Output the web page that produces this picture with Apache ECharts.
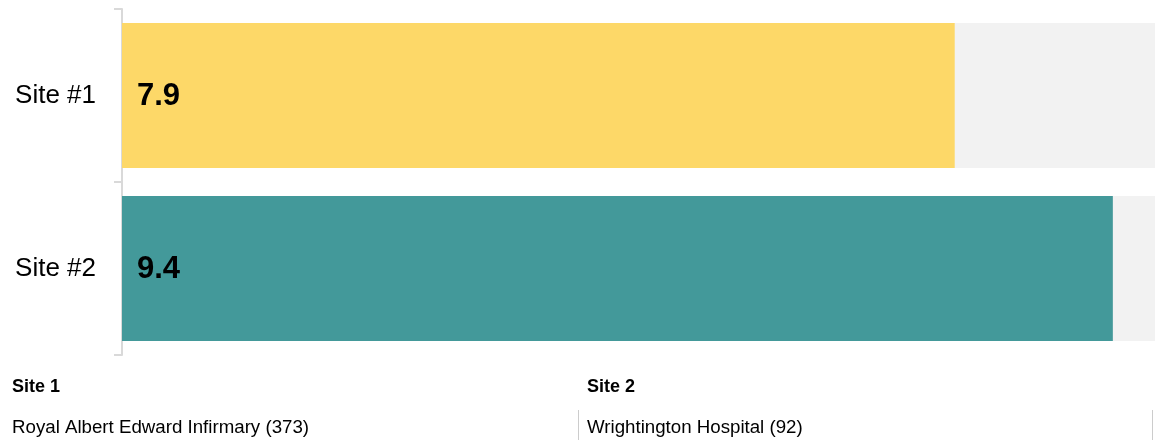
<!DOCTYPE html>
<html>
<head>
<meta charset="utf-8">
<script src="https://cdn.jsdelivr.net/npm/echarts@6/dist/echarts.min.js"></script>
<style>
html,body{margin:0;padding:0;background:#fff;}
#chart{width:1155px;height:440px;}
</style>
</head>
<body>
<div id="chart"></div>
<script>
var categories = ['Site #1', 'Site #2'];
var values = [7.9, 9.4];
var barColors = ['#FDD868', '#43999A'];
var axisMax = 9.8;
var siteHeadings = ['Site 1', 'Site 2'];
var siteNames = ['Royal Albert Edward Infirmary (373)', 'Wrightington Hospital (92)'];

var chart = echarts.init(document.getElementById('chart'), null, {renderer: 'canvas'});
var font = 'Liberation Sans, Arial, sans-serif';

var option = {
  animation: false,
  grid: {left: 122, right: 0, top: 9, bottom: 85, containLabel: false},
  xAxis: {
    type: 'value', min: 0, max: axisMax, show: false
  },
  yAxis: {
    type: 'category', data: categories, inverse: true,
    axisLine: {show: true, lineStyle: {color: '#D9D9D9', width: 2}},
    axisTick: {show: true, length: 8, lineStyle: {color: '#D9D9D9', width: 2}},
    axisLabel: {color: '#000', fontSize: 26, fontFamily: font, margin: 26}
  },
  series: [{
    type: 'bar',
    barWidth: 145,
    showBackground: true,
    backgroundStyle: {color: '#F2F2F2'},
    data: values.map(function (v, i) {
      return {value: v, itemStyle: {color: barColors[i]}};
    }),
    label: {
      show: true, position: 'insideLeft', distance: 15, offset: [0, 1],
      color: '#000', fontSize: 31, fontWeight: 'bold', fontFamily: font
    }
  }],
  graphic: [
    {type: 'text', left: 12, top: 378, style: {text: siteHeadings[0], font: 'bold 18px ' + font, fill: '#000'}},
    {type: 'text', left: 587, top: 378, style: {text: siteHeadings[1], font: 'bold 18px ' + font, fill: '#000'}},
    {type: 'text', left: 12, top: 418, style: {text: siteNames[0], font: '18.7px ' + font, fill: '#000'}},
    {type: 'text', left: 587, top: 418, style: {text: siteNames[1], font: '18.7px ' + font, fill: '#000'}},
    {type: 'line', shape: {x1: 578.5, y1: 410, x2: 578.5, y2: 440}, style: {stroke: '#CCCCCC', lineWidth: 1}},
    {type: 'line', shape: {x1: 1152.5, y1: 410, x2: 1152.5, y2: 440}, style: {stroke: '#CCCCCC', lineWidth: 1}}
  ]
};
chart.setOption(option);
</script>
</body>
</html>
